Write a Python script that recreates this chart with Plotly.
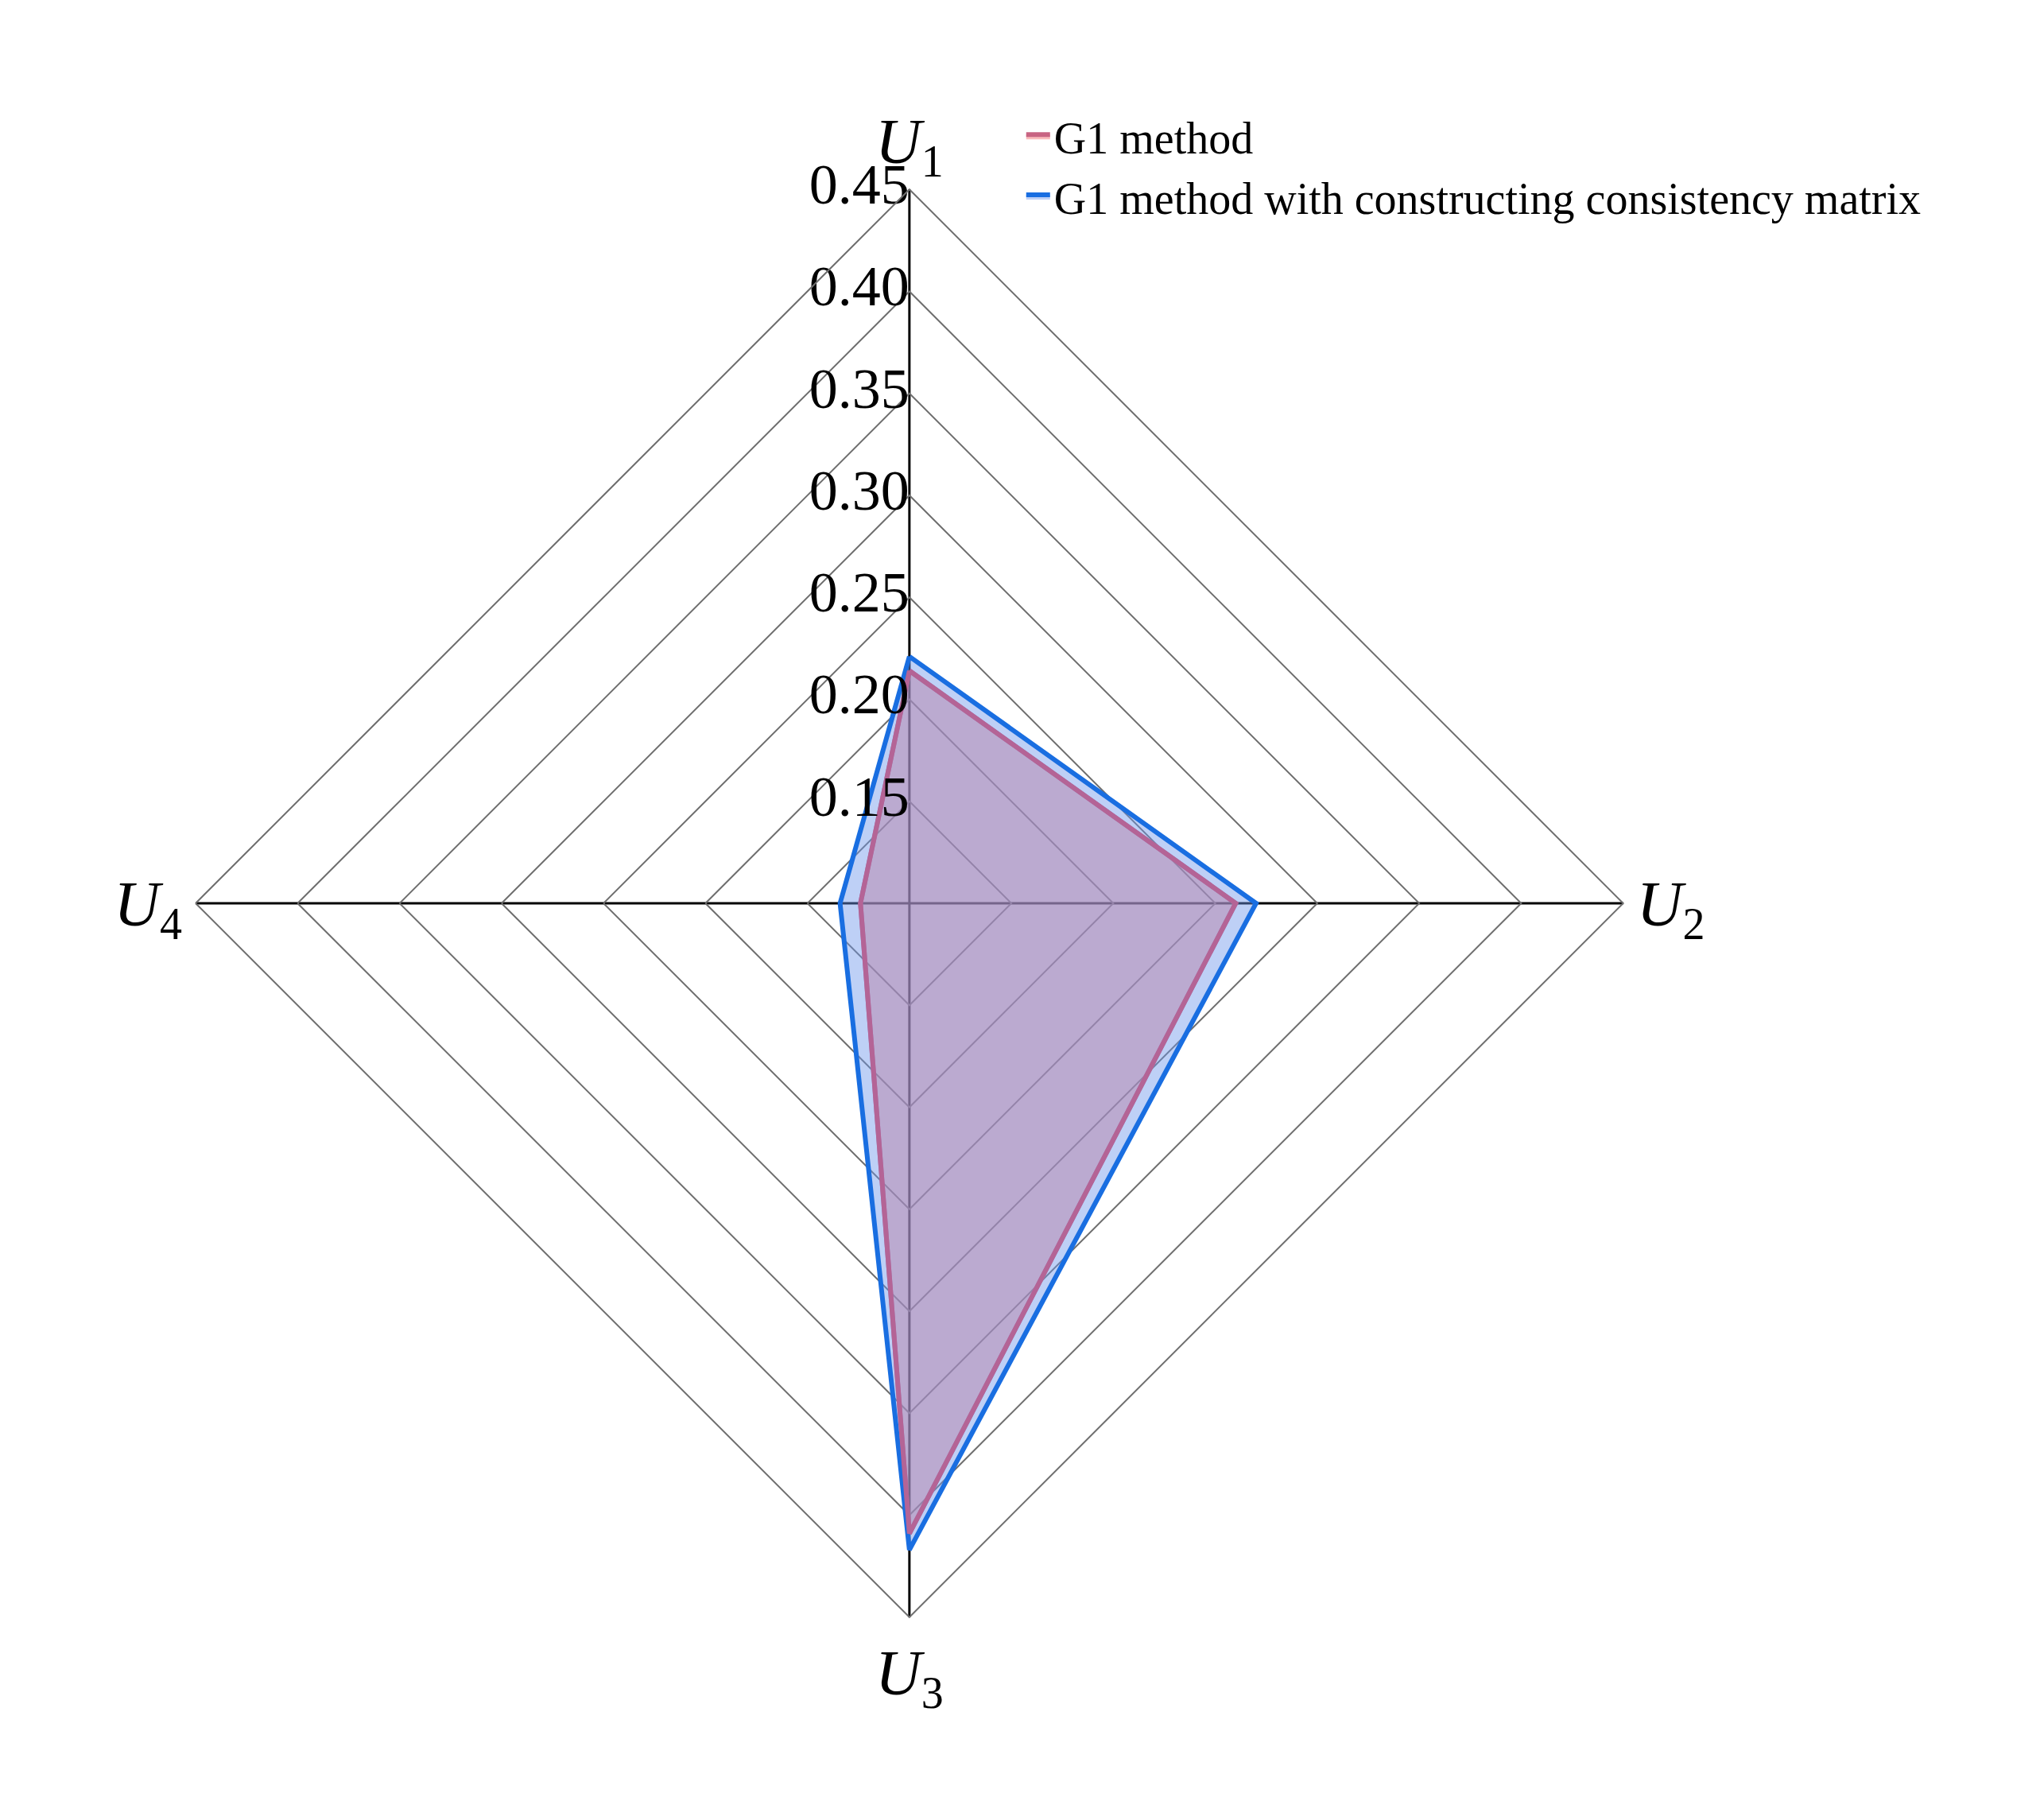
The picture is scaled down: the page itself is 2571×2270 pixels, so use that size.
import plotly.graph_objects as go

categories = ["<i>U</i><sub>1</sub>", "<i>U</i><sub>2</sub>", "<i>U</i><sub>3</sub>", "<i>U</i><sub>4</sub>"]
g1 = [0.214, 0.260, 0.409, 0.124]
g1_matrix = [0.221, 0.270, 0.417, 0.134]
tickvals = [0.10, 0.15, 0.20, 0.25, 0.30, 0.35, 0.40, 0.45]
ticktext = [f"{v:.2f}" for v in tickvals]

fig = go.Figure()
fig.add_trace(go.Scatterpolar(r=g1 + g1[:1], theta=categories + categories[:1],
    fill="toself", fillcolor="rgba(245,120,120,0.5)", line=dict(color="rgb(200,100,130)", width=6),
    mode="lines", name="G1 method"))
fig.add_trace(go.Scatterpolar(r=g1_matrix + g1_matrix[:1], theta=categories + categories[:1],
    fill="toself", fillcolor="rgba(110,150,235,0.45)", line=dict(color="rgb(25,110,225)", width=6),
    mode="lines", name="G1 method with constructing consistency matrix"))
fig.add_trace(go.Scatterpolar(r=g1 + g1[:1], theta=categories + categories[:1],
    line=dict(color="rgb(180,100,150)", width=6), mode="lines", showlegend=False, hoverinfo="skip"))
fig.add_trace(go.Scatterpolar(r=tickvals, theta=[categories[0]] * len(tickvals), text=ticktext,
    mode="text", textposition="middle left", textfont=dict(size=72, color="black"),
    showlegend=False, hoverinfo="skip"))

fig.update_layout(
    width=2571, height=2270, margin=dict(l=0, r=0, t=0, b=0),
    paper_bgcolor="white", plot_bgcolor="white",
    font=dict(family="Liberation Serif", color="black"),
    polar=dict(
        domain=dict(x=[0.0926, 0.791], y=[0.1075, 0.8987]),
        bgcolor="white", gridshape="linear",
        radialaxis=dict(range=[0.10, 0.45], tickvals=tickvals, showticklabels=False,
                        angle=90, showline=False, gridcolor="rgb(110,110,110)", gridwidth=2, ticks=""),
        angularaxis=dict(direction="clockwise", rotation=90, showline=True, linecolor="rgb(110,110,110)",
                         linewidth=2, gridcolor="black", gridwidth=3, tickfont=dict(size=80), ticks=""),
    ),
    legend=dict(x=0.497, y=0.947, xanchor="left", yanchor="top", font=dict(size=56),
                bgcolor="rgba(0,0,0,0)"),
)
fig.write_html("out.html")
